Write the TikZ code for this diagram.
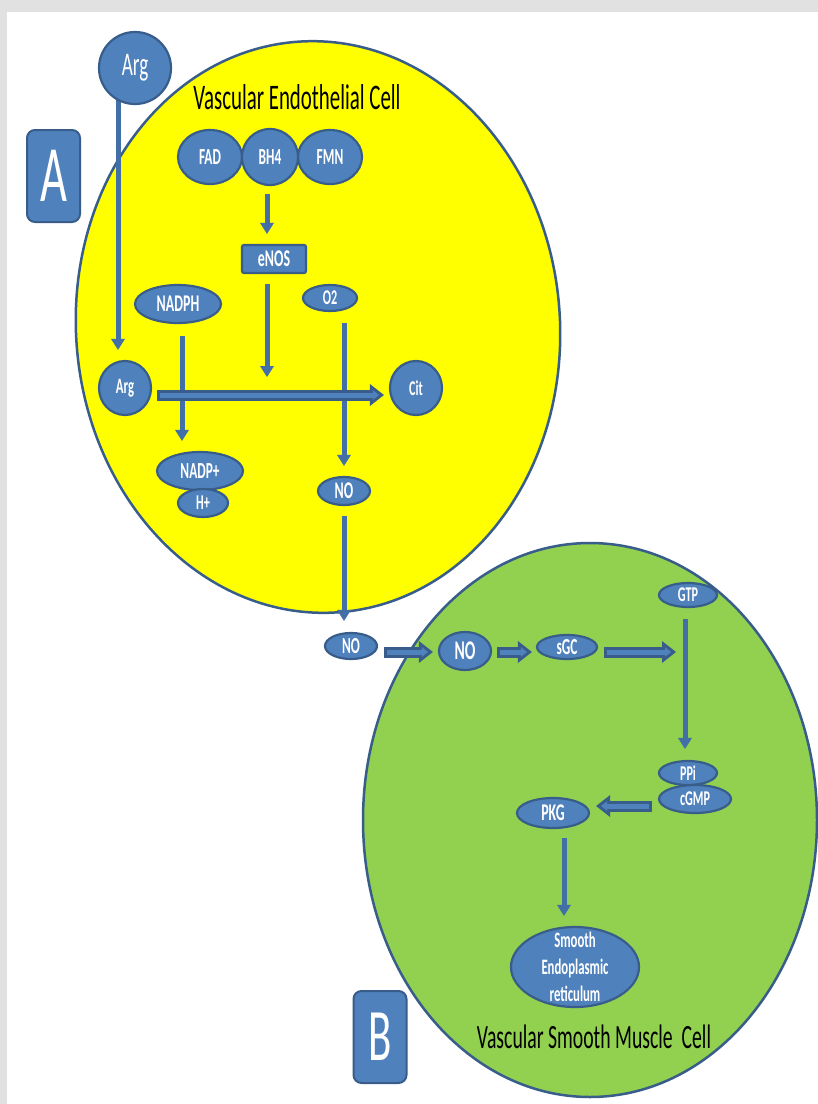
\documentclass[tikz,border=0pt]{standalone}
\usepackage{fontspec}
\setmainfont{Carlito}[FakeStretch=0.58]
\usetikzlibrary{shapes.geometric,arrows.meta,calc}
\definecolor{blu}{HTML}{4F81BD}
\definecolor{dblu}{HTML}{385D8A}
\definecolor{arr}{HTML}{416FA6}
\definecolor{yel}{HTML}{FFFF00}
\definecolor{grn}{HTML}{92D050}
\definecolor{framegray}{HTML}{E1E1E1}
\newcommand\fs[1]{\fontsize{#1}{#1}\selectfont}
\pgfdeclarelayer{frame}
\pgfdeclarelayer{cells}
\pgfdeclarelayer{links}
\pgfsetlayers{frame,cells,links,main}
\newcommand\blk[2]{%
  \draw[blkout] #1 -- #2;
  \draw[blkin] #1 -- #2;}
\begin{document}
\begin{tikzpicture}[x=1pt,y=-1pt,
  mol/.style={ellipse, fill=blu, draw=dblu, line width=2.2pt, inner sep=-12pt, text=white},
  cellshape/.style={ellipse, draw=dblu, line width=2.5pt, inner sep=0pt},
  flow/.style={draw=arr, line width=5pt, -{Triangle[width=14pt,length=11pt,line width=0pt]}},
  blkout/.style={draw=dblu, line width=11pt, -{Triangle[width=22pt,length=14pt,line width=0pt]}},
  blkin/.style={draw=blu, line width=5pt, shorten <=3pt, shorten >=4.9pt, -{Triangle[width=9.6pt,length=6.1pt,line width=0pt]}},
  letterbox/.style={rectangle, rounded corners=8pt, fill=blu, draw=dblu, line width=2pt, minimum width=53pt, minimum height=92pt, text=white, inner sep=0pt},
  title/.style={text=black, inner sep=0pt},
]
\begin{pgfonlayer}{frame}
\fill[framegray] (0,0) rectangle (818,1104);
\fill[white] (7,12) rectangle (818,1104);
\end{pgfonlayer}
\useasboundingbox (0,0) rectangle (818,1104);

\begin{pgfonlayer}{cells}
\node[cellshape, fill=yel, minimum width=484pt, minimum height=572pt, rotate=4] (endo) at (318,327) {};
\node[cellshape, fill=grn, minimum width=454pt, minimum height=554pt] (smc) at (590,820) {};
\end{pgfonlayer}

\node[title, font=\fs{36}] (t1) at (297,97) {Vascular Endothelial Cell};
\node[title, font=\fs{34}] (t2) at (594,1037) {Vascular Smooth Muscle~~Cell};

\node[letterbox, font=\fs{80}] (boxA) at (53.5,176) {A};
\node[letterbox, font=\fs{74}] (boxB) at (380,1037) {B};

\node[mol, minimum width=72pt, minimum height=72pt, font=\fs{33}] (argtop) at (135,68) {Arg};
\node[mol, minimum width=64pt, minimum height=54pt, font=\fs{23}\bfseries] (fad) at (210,157) {FAD};
\node[mol, minimum width=56pt, minimum height=56pt, font=\fs{23}\bfseries] (bh4) at (270,157) {BH4};
\node[mol, minimum width=64pt, minimum height=54pt, font=\fs{23}\bfseries] (fmn) at (330,157) {FMN};
\node[rectangle, rounded corners=2pt, fill=blu, draw=dblu, line width=2.2pt, text=white, inner sep=0pt,
      minimum width=64pt, minimum height=28pt, font=\fs{24}\bfseries] (enos) at (274,259) {eNOS};
\node[mol, minimum width=86pt, minimum height=38pt, font=\fs{24}\bfseries] (nadph) at (178,304) {NADPH};
\node[mol, minimum width=54pt, minimum height=26pt, font=\fs{21}\bfseries] (o2) at (330,298) {O2};
\node[mol, minimum width=52pt, minimum height=54pt, font=\fs{22}\bfseries] (arglow) at (125,388) {Arg};
\node[mol, minimum width=52pt, minimum height=54pt, font=\fs{21}\bfseries] (cit) at (416,388) {Cit};
\node[mol, minimum width=86pt, minimum height=38pt, font=\fs{23}\bfseries] (nadp) at (200,471) {NADP+};
\node[mol, minimum width=50pt, minimum height=28pt, font=\fs{21}\bfseries] (hplus) at (203,503) {H+};
\node[mol, minimum width=52pt, minimum height=28pt, font=\fs{24}\bfseries] (noA) at (344,491) {NO};
\node[mol, minimum width=52pt, minimum height=26pt, font=\fs{23}\bfseries] (noB) at (351,646) {NO};
\node[mol, minimum width=52pt, minimum height=38pt, font=\fs{27}\bfseries] (noC) at (465,651) {NO};
\node[mol, minimum width=60pt, minimum height=24pt, font=\fs{23}\bfseries] (sgc) at (567,647) {sGC};
\node[mol, minimum width=58pt, minimum height=24pt, font=\fs{21}\bfseries] (gtp) at (688,595) {GTP};
\node[mol, minimum width=58pt, minimum height=24pt, font=\fs{21}\bfseries] (ppi) at (688,773) {PPi};
\node[mol, minimum width=72pt, minimum height=28pt, font=\fs{21}\bfseries] (cgmp) at (695,799) {cGMP};
\node[mol, minimum width=72pt, minimum height=30pt, font=\fs{24}\bfseries] (pkg) at (553,813) {PKG};
\node[mol, minimum width=128pt, minimum height=80pt, align=center, font={\fontsize{22}{27}\selectfont\bfseries}] (ser) at (575,967) {Smooth\\Endoplasmic\\reticulum};

\coordinate (enosend) at (267,377);
\coordinate (sgcend) at (676,652);

\begin{pgfonlayer}{links}
\draw[flow, shorten >=10pt] ([xshift=-17pt]argtop.center) -- ([xshift=-7pt]arglow.north);
\draw[flow, shorten <=8pt, shorten >=10pt] ([xshift=-3pt]bh4.south) -- ([xshift=-7pt]enos.north);
\draw[flow, shorten <=10pt] ([xshift=-7pt]enos.south) -- (enosend);
\draw[flow, shorten <=12pt, shorten >=10pt] ([xshift=4pt]nadph.south) -- ([xshift=-18pt]nadp.north);
\draw[flow, shorten <=11pt, shorten >=10pt] ([xshift=14pt]o2.south) -- (noA.north);
\draw[flow, shorten <=10pt, shorten >=11pt] (noA.south) -- ([xshift=-7pt]noB.north);
\draw[flow, shorten <=11pt, shorten >=11pt] ([xshift=-3pt]gtp.south) -- ([xshift=-3pt]ppi.north);
\draw[flow, shorten <=9pt, shorten >=10pt] ([xshift=11pt]pkg.south) -- ([xshift=-11pt]ser.north);
\blk{([xshift=5pt,yshift=-7pt]arglow.east)}{([xshift=-5pt,yshift=-7pt]cit.west)}
\blk{([xshift=6pt,yshift=-6pt]noB.east)}{([xshift=-5pt,yshift=-1pt]noC.west)}
\blk{([xshift=5pt,yshift=-1pt]noC.east)}{([xshift=-4pt,yshift=-5pt]sgc.west)}
\blk{([xshift=6pt,yshift=-5pt]sgc.east)}{(sgcend)}
\blk{([xshift=-6pt,yshift=-7pt]cgmp.west)}{([xshift=6pt,yshift=7pt]pkg.east)}
\end{pgfonlayer}
\end{tikzpicture}
\end{document}
